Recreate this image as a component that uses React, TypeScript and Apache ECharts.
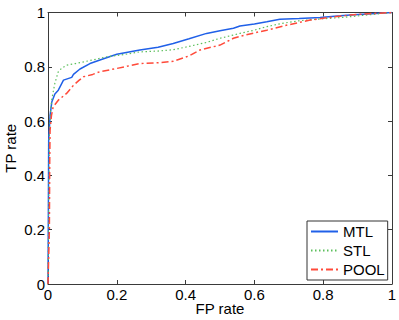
import React, { useEffect, useRef } from "react";
import * as echarts from "echarts";

const seriesNames = ["MTL", "STL", "POOL"];
const xTicks = [0, 0.2, 0.4, 0.6, 0.8, 1];
const yTicks = [0, 0.2, 0.4, 0.6, 0.8, 1];

const mtl: [number, number][] = [
  [0, 0], [0.001, 0.25], [0.002, 0.53], [0.006, 0.62], [0.011, 0.67], [0.02, 0.7],
  [0.03, 0.714], [0.045, 0.751], [0.069, 0.761], [0.074, 0.772], [0.093, 0.792],
  [0.122, 0.812], [0.151, 0.825], [0.2, 0.846], [0.267, 0.862], [0.32, 0.872],
  [0.364, 0.886], [0.41, 0.903], [0.461, 0.923], [0.5, 0.933], [0.539, 0.942],
  [0.558, 0.95], [0.6, 0.958], [0.636, 0.966], [0.674, 0.975], [0.73, 0.978],
  [0.791, 0.982], [0.85, 0.988], [0.878, 0.991], [0.94, 0.995], [1, 1],
];

const stl: [number, number][] = [
  [0, 0], [0.002, 0.3], [0.004, 0.55], [0.007, 0.63], [0.011, 0.68], [0.02, 0.74],
  [0.03, 0.782], [0.04, 0.795], [0.054, 0.806], [0.08, 0.812], [0.103, 0.818],
  [0.14, 0.828], [0.171, 0.837], [0.22, 0.845], [0.267, 0.855], [0.32, 0.858],
  [0.364, 0.863], [0.41, 0.875], [0.461, 0.89], [0.5, 0.905], [0.539, 0.917],
  [0.558, 0.923], [0.6, 0.935], [0.636, 0.948], [0.68, 0.96], [0.733, 0.97],
  [0.8, 0.977], [0.858, 0.982], [0.92, 0.99], [1, 1],
];

const pool: [number, number][] = [
  [0, 0], [0.004, 0.2], [0.005, 0.45], [0.006, 0.566], [0.01, 0.62], [0.015, 0.652],
  [0.03, 0.677], [0.054, 0.702], [0.074, 0.732], [0.09, 0.75], [0.103, 0.763],
  [0.13, 0.772], [0.151, 0.782], [0.2, 0.794], [0.267, 0.812], [0.32, 0.815],
  [0.364, 0.82], [0.41, 0.84], [0.442, 0.862], [0.5, 0.88], [0.539, 0.905],
  [0.558, 0.912], [0.6, 0.925], [0.636, 0.935], [0.7, 0.955], [0.762, 0.972],
  [0.82, 0.982], [0.878, 0.991], [0.94, 0.996], [1, 1],
];

const FONT = "'Liberation Sans', Arial, Helvetica, sans-serif";
const AXIS_COLOR = "#3a3a3a";
const FS = 15;

export default function App() {
  const ref = useRef<HTMLDivElement>(null);
  useEffect(() => {
    if (!ref.current) return;
    const chart = echarts.init(ref.current, undefined, { renderer: "svg" });
    const baseAxis = {
      type: "value" as const,
      min: 0,
      max: 1,
      interval: 0.2,
      splitLine: { show: false },
      axisLine: { show: true, onZero: false, lineStyle: { color: AXIS_COLOR, width: 1 } },
      axisTick: { show: true, inside: true, length: 4, lineStyle: { color: AXIS_COLOR } },
    };
    chart.setOption({
      animation: false,
      backgroundColor: "#ffffff",
      textStyle: { fontFamily: FONT },
      grid: { left: 48, right: 7, top: 12.5, bottom: 36, containLabel: false, outerBoundsMode: "none" },
      legend: {
        orient: "vertical",
        left: 307,
        top: 221,
        data: seriesNames,
        backgroundColor: "#ffffff",
        borderColor: "#333",
        borderWidth: 1,
        borderRadius: 0,
        padding: [3, 3, 3, 3],
        itemGap: 4,
        itemWidth: 27,
        itemHeight: 14,
        itemStyle: { opacity: 0 },
        textStyle: { fontFamily: FONT, fontSize: FS, color: "#000" },
      },
      xAxis: [
        {
          ...baseAxis,
          position: "bottom",
          name: "FP rate",
          nameLocation: "middle",
          nameGap: 16,
          nameMoveOverlap: false,
          nameTextStyle: { fontFamily: FONT, fontSize: FS, lineHeight: 16, color: "#000", verticalAlign: "top" },
          axisLabel: {
            margin: 3,
            fontFamily: FONT,
            fontSize: FS,
            color: "#000",
            formatter: (v: number) => (xTicks.includes(v) ? String(v) : ""),
          },
        },
        { ...baseAxis, position: "top", axisLabel: { show: false } },
      ],
      yAxis: [
        {
          ...baseAxis,
          position: "left",
          name: "TP rate",
          nameLocation: "middle",
          nameGap: 30,
          nameMoveOverlap: false,
          nameTextStyle: { fontFamily: FONT, fontSize: FS, lineHeight: 16, color: "#000", verticalAlign: "bottom" },
          axisLabel: {
            margin: 3,
            fontFamily: FONT,
            fontSize: FS,
            color: "#000",
            formatter: (v: number) => (yTicks.includes(v) ? String(v) : ""),
          },
        },
        { ...baseAxis, position: "right", axisLabel: { show: false } },
      ],
      series: [
        {
          name: seriesNames[0],
          type: "line",
          data: mtl,
          symbol: "none",
          itemStyle: { color: "#2060e8" },
          lineStyle: { color: "#2060e8", width: 1.5 },
        },
        {
          name: seriesNames[1],
          type: "line",
          data: stl,
          symbol: "none",
          itemStyle: { color: "#5cbf5c" },
          lineStyle: { color: "#5cbf5c", width: 1.2, type: [1.5, 2.5] },
        },
        {
          name: seriesNames[2],
          type: "line",
          data: pool,
          symbol: "none",
          itemStyle: { color: "#ff4a3a" },
          lineStyle: { color: "#ff4a3a", width: 1.5, type: [7, 3, 2, 3] },
        },
      ],
    });
    return () => chart.dispose();
  }, []);
  return <div ref={ref} style={{ width: 399, height: 320, position: "absolute", left: 0, top: 0 }} />;
}
